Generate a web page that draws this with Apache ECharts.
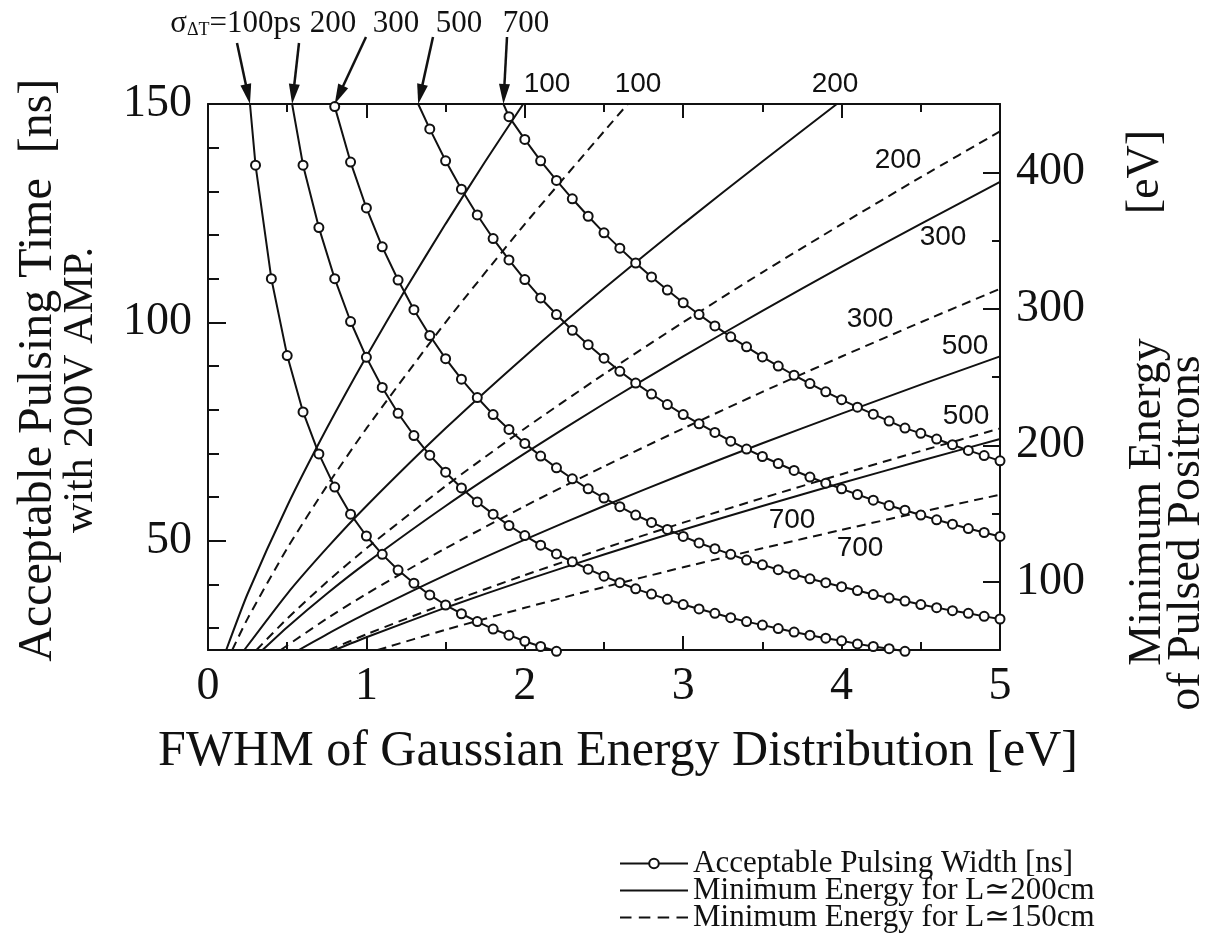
<!DOCTYPE html>
<html>
<head>
<meta charset="utf-8">
<script src="https://cdn.jsdelivr.net/npm/echarts@6/dist/echarts.min.js"></script>
<style>html,body{margin:0;padding:0;background:#fff}#main{width:1217px;height:939px}</style>
</head>
<body>
<div id="main"></div>
<script>
// ---------- data ----------
// Acceptable pulsing width [ns] (left axis) vs FWHM [eV]; first point of a curve at 150 ns = where it leaves the top frame
const pulse100X = [0.265, 0.3, 0.4, 0.5, 0.6, 0.7, 0.8, 0.9, 1.0, 1.1, 1.2, 1.3, 1.4, 1.5, 1.6, 1.7, 1.8, 1.9, 2.0, 2.1, 2.2];
const pulse100T = [150, 136.0, 110.0, 92.4, 79.5, 69.9, 62.3, 56.1, 51.1, 46.9, 43.3, 40.3, 37.6, 35.3, 33.3, 31.5, 29.8, 28.4, 27.0, 25.8, 24.7];
const pulse200X = [0.531, 0.6, 0.7, 0.8, 0.9, 1.0, 1.1, 1.2, 1.3, 1.4, 1.5, 1.6, 1.7, 1.8, 1.9, 2.0, 2.1, 2.2, 2.3, 2.4, 2.5, 2.6, 2.7, 2.8, 2.9, 3.0, 3.1, 3.2, 3.3, 3.4, 3.5, 3.6, 3.7, 3.8, 3.9, 4.0, 4.1, 4.2, 4.3, 4.4];
const pulse200T = [150, 136.0, 121.7, 110.0, 100.2, 92.0, 85.1, 79.2, 74.1, 69.6, 65.7, 62.1, 58.9, 56.1, 53.5, 51.2, 49.0, 47.0, 45.2, 43.5, 41.9, 40.4, 39.0, 37.8, 36.6, 35.4, 34.4, 33.4, 32.4, 31.5, 30.7, 29.9, 29.1, 28.4, 27.7, 27.1, 26.4, 25.8, 25.3, 24.7];
const pulse300X = [0.8, 0.9, 1.0, 1.1, 1.2, 1.3, 1.4, 1.5, 1.6, 1.7, 1.8, 1.9, 2.0, 2.1, 2.2, 2.3, 2.4, 2.5, 2.6, 2.7, 2.8, 2.9, 3.0, 3.1, 3.2, 3.3, 3.4, 3.5, 3.6, 3.7, 3.8, 3.9, 4.0, 4.1, 4.2, 4.3, 4.4, 4.5, 4.6, 4.7, 4.8, 4.9, 5.0];
const pulse300T = [149.4, 136.7, 126.2, 117.3, 109.7, 102.9, 97.0, 91.7, 87.0, 82.8, 78.9, 75.5, 72.3, 69.4, 66.7, 64.2, 61.9, 59.8, 57.8, 55.9, 54.2, 52.6, 51.0, 49.5, 48.2, 46.9, 45.6, 44.5, 43.4, 42.3, 41.3, 40.4, 39.5, 38.6, 37.7, 36.9, 36.2, 35.4, 34.7, 34.0, 33.4, 32.7, 32.1];
const pulse500X = [1.327, 1.4, 1.5, 1.6, 1.7, 1.8, 1.9, 2.0, 2.1, 2.2, 2.3, 2.4, 2.5, 2.6, 2.7, 2.8, 2.9, 3.0, 3.1, 3.2, 3.3, 3.4, 3.5, 3.6, 3.7, 3.8, 3.9, 4.0, 4.1, 4.2, 4.3, 4.4, 4.5, 4.6, 4.7, 4.8, 4.9, 5.0];
const pulse500T = [150, 144.3, 137.0, 130.5, 124.6, 119.2, 114.3, 109.8, 105.6, 101.8, 98.2, 94.9, 91.8, 88.8, 86.1, 83.6, 81.2, 78.9, 76.8, 74.8, 72.8, 71.0, 69.3, 67.7, 66.1, 64.6, 63.2, 61.9, 60.6, 59.3, 58.1, 57.0, 55.9, 54.8, 53.8, 52.8, 51.9, 51.0];
const pulse700X = [1.865, 1.9, 2.0, 2.1, 2.2, 2.3, 2.4, 2.5, 2.6, 2.7, 2.8, 2.9, 3.0, 3.1, 3.2, 3.3, 3.4, 3.5, 3.6, 3.7, 3.8, 3.9, 4.0, 4.1, 4.2, 4.3, 4.4, 4.5, 4.6, 4.7, 4.8, 4.9, 5.0];
const pulse700T = [150, 147.1, 141.9, 137.0, 132.5, 128.3, 124.3, 120.5, 117.0, 113.6, 110.4, 107.4, 104.5, 101.8, 99.2, 96.7, 94.4, 92.1, 90.0, 87.9, 86.0, 84.1, 82.3, 80.6, 79.0, 77.4, 75.8, 74.6, 73.3, 72.0, 70.7, 69.5, 68.3];

// Minimum energy [eV] (right axis) vs FWHM [eV]; L=200cm (solid) and L=150cm (dashed)
const eS100X = [0.115, 0.25, 0.5, 0.75, 1.0, 1.25, 1.5, 1.75, 1.99];
const eS100E = [50, 91.2, 155.5, 212.4, 265.1, 314.8, 362.2, 407.9, 450];
const eD100X = [0.153, 0.25, 0.5, 0.75, 1.0, 1.5, 2.0, 2.5, 2.65];
const eD100E = [50, 73.0, 124.5, 170.1, 212.3, 290.1, 362.0, 429.9, 450];
const eS200X = [0.229, 0.5, 0.75, 1.0, 1.5, 2.0, 2.5, 3.0, 3.5, 3.97];
const eS200E = [50, 91.2, 124.6, 155.5, 212.4, 265.1, 314.8, 362.2, 407.9, 450];
const eD200X = [0.306, 0.5, 0.75, 1.0, 1.5, 2.0, 2.5, 3.0, 3.5, 4.0, 4.5, 5.0];
const eD200E = [50, 73.0, 99.8, 124.5, 170.1, 212.3, 252.1, 290.1, 326.7, 362.0, 396.4, 429.9];
const eS300X = [0.344, 0.5, 0.75, 1.0, 1.5, 2.0, 2.5, 3.0, 3.5, 4.0, 4.5, 5.0];
const eS300E = [50, 66.7, 91.2, 113.8, 155.5, 194.0, 230.4, 265.1, 298.5, 330.8, 362.2, 392.9];
const eD300X = [0.459, 0.75, 1.0, 1.5, 2.0, 2.5, 3.0, 3.5, 4.0, 4.5, 5.0];
const eD300E = [50, 73.0, 91.1, 124.5, 155.4, 184.5, 212.3, 239.1, 265.0, 290.1, 314.6];
const eS500X = [0.573, 0.75, 1.0, 1.5, 2.0, 2.5, 3.0, 3.5, 4.0, 4.5, 5.0];
const eS500E = [50, 61.5, 76.8, 104.9, 130.9, 155.5, 178.9, 201.5, 223.2, 244.4, 265.1];
const eD500X = [0.765, 1.0, 1.5, 2.0, 2.5, 3.0, 3.5, 4.0, 4.5, 5.0];
const eD500E = [50, 61.5, 84.0, 104.9, 124.5, 143.3, 161.3, 178.8, 195.8, 212.3];
const eS700X = [0.802, 1.0, 1.5, 2.0, 2.5, 3.0, 3.5, 4.0, 4.5, 5.0];
const eS700E = [50, 59.3, 81.0, 101.0, 120.0, 138.1, 155.5, 172.3, 188.6, 204.6];
const eD700X = [1.071, 1.5, 2.0, 2.5, 3.0, 3.5, 4.0, 4.5, 5.0];
const eD700E = [50, 64.8, 80.9, 96.1, 110.6, 124.5, 138.0, 151.1, 163.8];

const sigmaLabels = ['100ps', '200', '300', '500', '700'];
const energyLabels = ['100', '100', '200', '200', '300', '300', '500', '500', '700', '700'];
const xTickLabels = ['0', '1', '2', '3', '4', '5'];
const leftTickLabels = [50, 100, 150];
const rightTickLabels = [100, 200, 300, 400];

const NAME_P = 'Acceptable Pulsing Width [ns]';
const NAME_S = 'Minimum Energy for L\u2243200cm';
const NAME_D = 'Minimum Energy for L\u2243150cm';

// ---------- chart ----------
const SERIF = "'Liberation Serif','DejaVu Serif',serif";
const SANS = "'Liberation Sans','DejaVu Sans',sans-serif";
const INK = '#111';
const chart = echarts.init(document.getElementById('main'));

const zip = (xs, ys) => xs.map((x, i) => [x, ys[i]]);
const pulseSets = [[pulse100X, pulse100T], [pulse200X, pulse200T], [pulse300X, pulse300T], [pulse500X, pulse500T], [pulse700X, pulse700T]];
const solidSets = [[eS100X, eS100E], [eS200X, eS200E], [eS300X, eS300E], [eS500X, eS500E], [eS700X, eS700E]];
const dashSets = [[eD100X, eD100E], [eD200X, eD200E], [eD300X, eD300E], [eD500X, eD500E], [eD700X, eD700E]];

const series = [];
solidSets.forEach(([xs, es]) => series.push({
  name: NAME_S, type: 'line', xAxisIndex: 0, yAxisIndex: 1, data: zip(xs, es),
  symbol: 'none', smooth: 0.2, lineStyle: { color: INK, width: 2, type: 'solid' },
  itemStyle: { color: INK }, z: 3, silent: true
}));
dashSets.forEach(([xs, es]) => series.push({
  name: NAME_D, type: 'line', xAxisIndex: 0, yAxisIndex: 1, data: zip(xs, es),
  symbol: 'none', smooth: 0.2, lineStyle: { color: INK, width: 2, type: [9, 6] },
  itemStyle: { color: INK }, z: 3, silent: true
}));
pulseSets.forEach(([xs, ts]) => series.push({
  name: NAME_P, type: 'line', xAxisIndex: 0, yAxisIndex: 0,
  data: xs.map((x, i) => ts[i] >= 150 ? { value: [x, ts[i]], symbol: 'none' } : [x, ts[i]]),
  symbol: 'emptyCircle', symbolSize: 9, showSymbol: true, clip: false,
  lineStyle: { color: INK, width: 2 }, itemStyle: { color: INK, borderWidth: 2 },
  z: 5, silent: true
}));

const axisLine = { show: true, onZero: false, lineStyle: { color: INK, width: 2 } };
const tickLine = { color: INK, width: 2 };

// legend icons for the plain-line entries (solid bar / four dashes)
const ICON_SOLID = 'path://M0,0H68V2H0Z';
const ICON_DASH = 'path://M0,0H11V2H0Z M18,0H29V2H18Z M36,0H47V2H36Z M54,0H65V2H54Z';

chart.setOption({
  backgroundColor: '#fff',
  animation: false,
  grid: { left: 208, top: 104, width: 792, height: 546 },
  legend: {
    data: [{ name: NAME_P }, { name: NAME_S, icon: ICON_SOLID }, { name: NAME_D, icon: ICON_DASH }],
    orient: 'vertical', left: 619, top: 848, width: 580, height: 200, padding: 0,
    itemWidth: 68, itemHeight: 12, itemGap: -4, selectedMode: false, symbolKeepAspect: true,
    textStyle: { fontFamily: SERIF, fontSize: 31, color: INK, lineHeight: 26 }
  },
  xAxis: [
    { type: 'value', position: 'bottom', min: 0, max: 5, interval: 1, axisLine,
      axisTick: { inside: true, length: 14, lineStyle: tickLine },
      minorTick: { show: true, splitNumber: 2, length: 8, lineStyle: tickLine },
      axisLabel: { fontFamily: SERIF, fontSize: 46, color: INK, margin: 14, formatter: v => xTickLabels[Math.round(v)] },
      splitLine: { show: false }, minorSplitLine: { show: false } },
    { type: 'value', position: 'top', min: 0, max: 5, interval: 1, axisLine,
      axisTick: { inside: true, length: 14, lineStyle: tickLine },
      minorTick: { show: true, splitNumber: 2, length: 8, lineStyle: tickLine },
      axisLabel: { show: false }, splitLine: { show: false } }
  ],
  yAxis: [
    { type: 'value', position: 'left', min: 25, max: 150, splitNumber: 3, axisLine,
      axisTick: { inside: true, length: 18, lineStyle: tickLine },
      minorTick: { show: true, splitNumber: 5, length: 11, lineStyle: tickLine },
      axisLabel: { fontFamily: SERIF, fontSize: 46, color: INK, margin: 16,
        formatter: v => leftTickLabels.includes(v) ? String(v) : '' },
      splitLine: { show: false } },
    { type: 'value', position: 'right', min: 50, max: 450, splitNumber: 4, axisLine,
      axisTick: { inside: true, length: 17, lineStyle: tickLine },
      minorTick: { show: true, splitNumber: 2, length: 8, lineStyle: tickLine },
      axisLabel: { fontFamily: SERIF, fontSize: 46, color: INK, margin: 16,
        formatter: v => rightTickLabels.includes(v) ? String(v) : '' },
      splitLine: { show: false } }
  ],
  series
});

// ---------- annotations (text + arrows) ----------
const g = [];
const txt = (x, y, text, size, font, rot, align) => ({
  type: 'text', x, y, rotation: rot || 0, silent: true, z: 50,
  style: { text, fontSize: size, fontFamily: font, fill: INK, align: align || 'center', verticalAlign: 'middle' }
});
// axis titles
g.push(txt(618, 752, 'FWHM of Gaussian Energy Distribution [eV]', 50, SERIF));
g.push(txt(38, 420, 'Acceptable Pulsing Time', 48, SERIF, Math.PI / 2));
g.push(txt(38, 116, '[ns]', 48, SERIF, Math.PI / 2));
g.push(txt(81, 390, 'with 200V AMP.', 42, SERIF, Math.PI / 2));
g.push(txt(1148, 502, 'Minimum Energy', 46, SERIF, Math.PI / 2));
g.push(txt(1187, 533, 'of Pulsed Positrons', 46, SERIF, Math.PI / 2));
g.push(txt(1146, 172, '[eV]', 46, SERIF, Math.PI / 2));

// sigma labels with arrows pointing to where each pulsing-width curve leaves the top frame
const sigmaPos = [[301, 24], [333, 24], [396, 24], [459, 24], [526, 24]];
const tails = [[237, 43], [299, 43], [366, 37], [433, 37], [507, 37]];
sigmaLabels.forEach((s, i) => {
  const [lx, ly] = sigmaPos[i];
  if (i === 0) {
    g.push({ type: 'text', x: lx, y: ly, silent: true, z: 50,
      style: { text: '{a|\u03c3}{b|\u0394T}{a|=' + s + '}', align: 'right', verticalAlign: 'middle', fill: INK,
        rich: { a: { fontFamily: SERIF, fontSize: 31, fill: INK }, b: { fontFamily: SERIF, fontSize: 18, fill: INK, verticalAlign: 'bottom', padding: [12, 0, 0, 0] } } } });
  } else {
    g.push(txt(lx, ly, s, 31, SERIF));
  }
  const [xs] = pulseSets[i];
  const tip = chart.convertToPixel({ xAxisIndex: 0, yAxisIndex: 0 }, [xs[0], 150]);
  const tail = tails[i];
  const dx = tip[0] - tail[0], dy = tip[1] - tail[1];
  const len = Math.hypot(dx, dy), ux = dx / len, uy = dy / len;
  const hl = 20, hw = 5.5;
  const bx = tip[0] - ux * hl, by = tip[1] - uy * hl;
  g.push({ type: 'line', silent: true, z: 50, shape: { x1: tail[0], y1: tail[1], x2: bx + ux * 4, y2: by + uy * 4 }, style: { stroke: INK, lineWidth: 2.5 } });
  g.push({ type: 'polygon', silent: true, z: 50, shape: { points: [[tip[0], tip[1]], [bx - uy * hw, by + ux * hw], [bx + uy * hw, by - ux * hw]] }, style: { fill: INK } });
});

// sigma labels on the energy lines
const energyLabelPos = [[547, 84], [638, 84], [835, 84], [898, 160], [943, 237], [870, 319], [965, 346], [966, 416], [792, 520], [860, 548]];
energyLabels.forEach((s, i) => g.push(txt(energyLabelPos[i][0], energyLabelPos[i][1], s, 28, SANS)));

chart.setOption({ graphic: g });
</script>
</body>
</html>
